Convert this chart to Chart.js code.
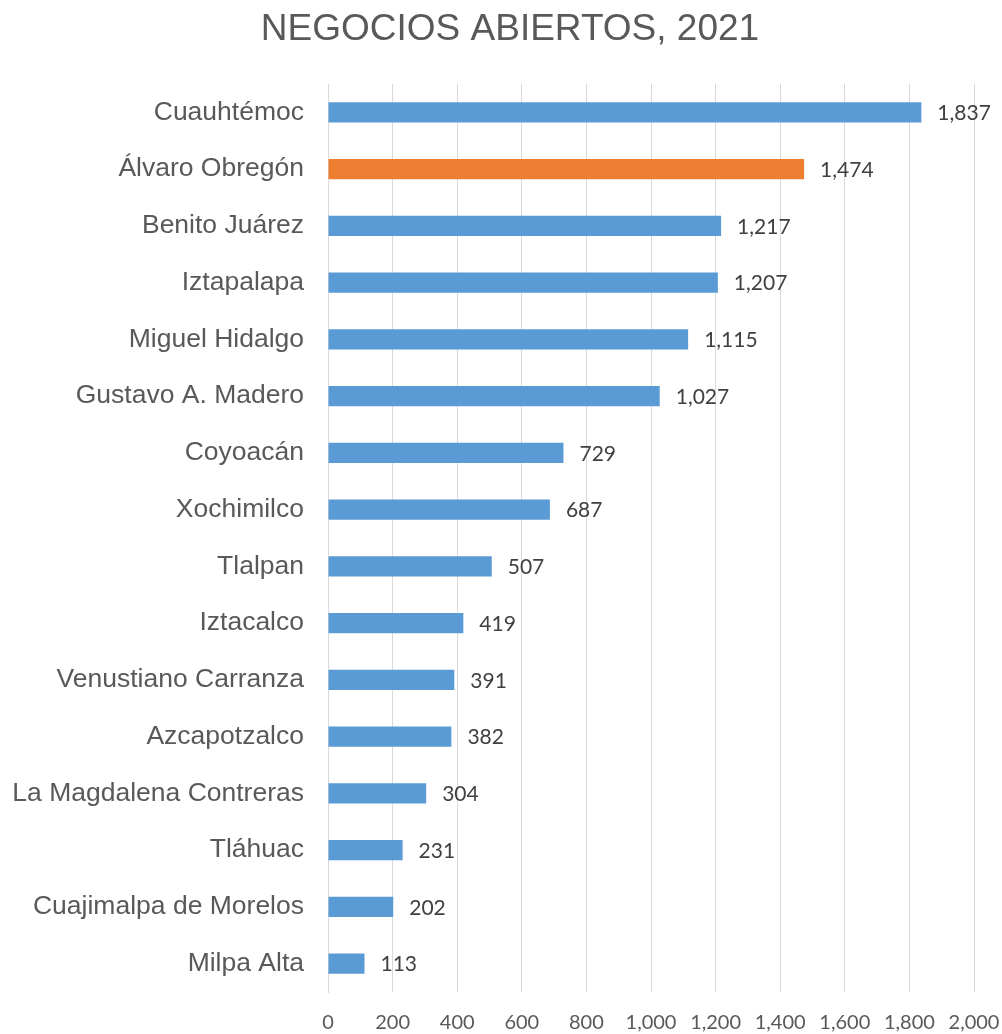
<!DOCTYPE html>
<html lang="es">
<head>
    <meta charset="UTF-8">
    <title>Negocios abiertos, 2021</title>
    <script src="https://cdn.jsdelivr.net/npm/chart.js"></script>
    <style>
        html, body {
            margin: 0;
            padding: 0;
            background: #ffffff;
            overflow: hidden;
        }
        #wrap {
            width: 1002px;
            height: 1034px;
        }
    </style>
</head>
<body>

<div id="wrap">
    <canvas id="negociosChart"></canvas>
</div>

<script>
    // datos
    const alcaldias = ['Cuauhtémoc', 'Álvaro Obregón', 'Benito Juárez', 'Iztapalapa', 'Miguel Hidalgo',
        'Gustavo A. Madero', 'Coyoacán', 'Xochimilco', 'Tlalpan', 'Iztacalco', 'Venustiano Carranza',
        'Azcapotzalco', 'La Magdalena Contreras', 'Tláhuac', 'Cuajimalpa de Morelos', 'Milpa Alta'];
    const negocios = [1837, 1474, 1217, 1207, 1115, 1027, 729, 687, 507, 419, 391, 382, 304, 231, 202, 113];
    const resaltada = 'Álvaro Obregón';
    const xTicks = [0, 200, 400, 600, 800, 1000, 1200, 1400, 1600, 1800, 2000];
    const titulo = 'NEGOCIOS ABIERTOS, 2021';

    const azul = '#5B9BD5';
    const naranja = '#ED7D31';

    // titulo centrado un poco a la derecha, como en el original
    const chartTitle = {
        id: 'chartTitle',
        afterDraw(chart) {
            const c = chart.ctx;
            c.save();
            c.font = '37px "Liberation Sans"';
            c.fillStyle = '#595959';
            c.textAlign = 'center';
            c.textBaseline = 'middle';
            c.fillText(titulo, 510, 30);
            c.restore();
        }
    };

    // etiquetas de valor a la derecha de cada barra
    const valueLabels = {
        id: 'valueLabels',
        afterDatasetsDraw(chart) {
            const c = chart.ctx;
            const meta = chart.getDatasetMeta(0);
            c.save();
            c.font = '21px Lato';
            c.fillStyle = '#404040';
            c.textAlign = 'left';
            c.textBaseline = 'middle';
            meta.data.forEach((bar, i) => {
                c.fillText(negocios[i].toLocaleString('en-US'), bar.x + 16, bar.y + 1);
            });
            c.restore();
        }
    };

    const ctx = document.getElementById('negociosChart').getContext('2d');
    const negociosChart = new Chart(ctx, {
        type: 'bar',
        data: {
            labels: alcaldias,
            datasets: [{
                data: negocios,
                backgroundColor: alcaldias.map(a => a === resaltada ? naranja : azul),
                barPercentage: 0.36,
                categoryPercentage: 1
            }]
        },
        options: {
            indexAxis: 'y',
            responsive: true,
            maintainAspectRatio: false,
            animation: false,
            layout: {
                padding: { left: 0, right: 28, top: 84, bottom: 0 }
            },
            plugins: {
                legend: { display: false },
                tooltip: { enabled: false },
                title: { display: false }
            },
            scales: {
                x: {
                    min: 0,
                    max: 2000,
                    afterBuildTicks: (scale) => {
                        scale.ticks = xTicks.map(v => ({ value: v }));
                    },
                    afterFit: (scale) => {
                        scale.height = 42;
                        scale.paddingLeft = 0;
                        scale.paddingRight = 0;
                    },
                    grid: {
                        color: '#d9d9d9',
                        drawTicks: false
                    },
                    border: { display: false },
                    ticks: {
                        padding: 19,
                        color: '#595959',
                        font: { family: 'Lato', size: 20 },
                        callback: (v) => v.toLocaleString('en-US')
                    }
                },
                y: {
                    afterFit: (scale) => {
                        scale.width = 328;
                        scale.paddingTop = 0;
                        scale.paddingBottom = 0;
                    },
                    grid: {
                        display: false,
                        drawTicks: false
                    },
                    border: { display: true, color: '#d9d9d9' },
                    ticks: {
                        padding: 24,
                        color: '#595959',
                        font: { family: 'Liberation Sans', size: 26.5 }
                    }
                }
            }
        },
        plugins: [valueLabels, chartTitle]
    });
</script>

</body>
</html>
